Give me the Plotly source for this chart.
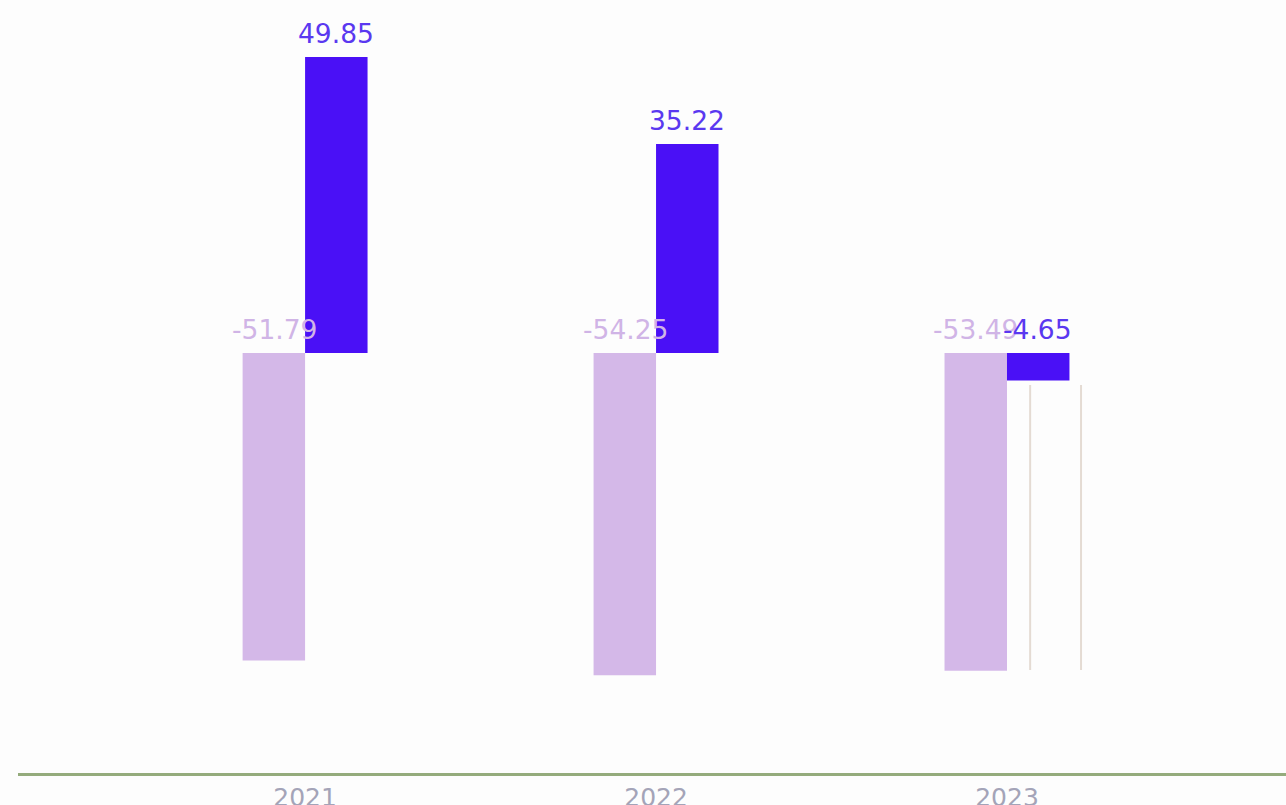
import plotly.graph_objects as go

# Chart data
years = ["2021", "2022", "2023"]
light_values = [-51.79, -54.25, -53.49]
dark_values = [49.85, 35.22, -4.65]

# faint outline left in the 2023 slot (top / bottom values)
ghost_x = [2.066, 2.211]
ghost_y = [-5.4, -53.4]

light = "#d4b8e8"
dark = "#4a10f6"
label_font = "DejaVu Sans"

fig = go.Figure()

fig.add_trace(go.Bar(x=list(range(len(years))), y=light_values,
                     marker=dict(color=light, line_width=0), showlegend=False))
fig.add_trace(go.Bar(x=list(range(len(years))), y=dark_values,
                     marker=dict(color=dark, line_width=0), showlegend=False))


# value labels: above the bar when positive, above the zero line when negative
def add_labels(values, shift, color):
    for i, v in enumerate(values):
        fig.add_annotation(x=i, y=max(v, 0), xref="x", yref="y", text=f"{v:.2f}",
                           showarrow=False, yanchor="bottom", xshift=shift, yshift=6,
                           font=dict(family=label_font, size=26.5, color=color))


add_labels(light_values, -31, "#d0b4e6")
add_labels(dark_values, 31, "#5a38f0")

for gx in ghost_x:
    fig.add_shape(type="line", xref="x", yref="y", x0=gx, x1=gx,
                  y0=ghost_y[0], y1=ghost_y[1],
                  line=dict(color="#e4dbd3", width=2), layer="below")

fig.update_layout(
    width=1286, height=805,
    margin=dict(t=0, b=32, l=18, r=0),
    paper_bgcolor="#fdfdfd",
    plot_bgcolor="#fdfdfd",
    barmode="group",
    bargap=0.644,
    bargroupgap=0,
    font=dict(family=label_font),
)

fig.update_xaxes(
    range=[-0.818, 2.795],
    automargin=False,
    tickmode="array", tickvals=list(range(len(years))), ticktext=years,
    showline=True, linecolor="#94ab7c", linewidth=3,
    showgrid=False, zeroline=False,
    ticks="",
    tickfont=dict(family=label_font, size=25, color="#a4a4b8"),
)

fig.update_yaxes(
    range=[-70.73, 59.45],
    automargin=False,
    showgrid=False, zeroline=False, showticklabels=False,
)

fig.write_html("out.html", config={"displayModeBar": False},
               post_script="document.body.style.margin='0';document.body.style.overflow='hidden';")
